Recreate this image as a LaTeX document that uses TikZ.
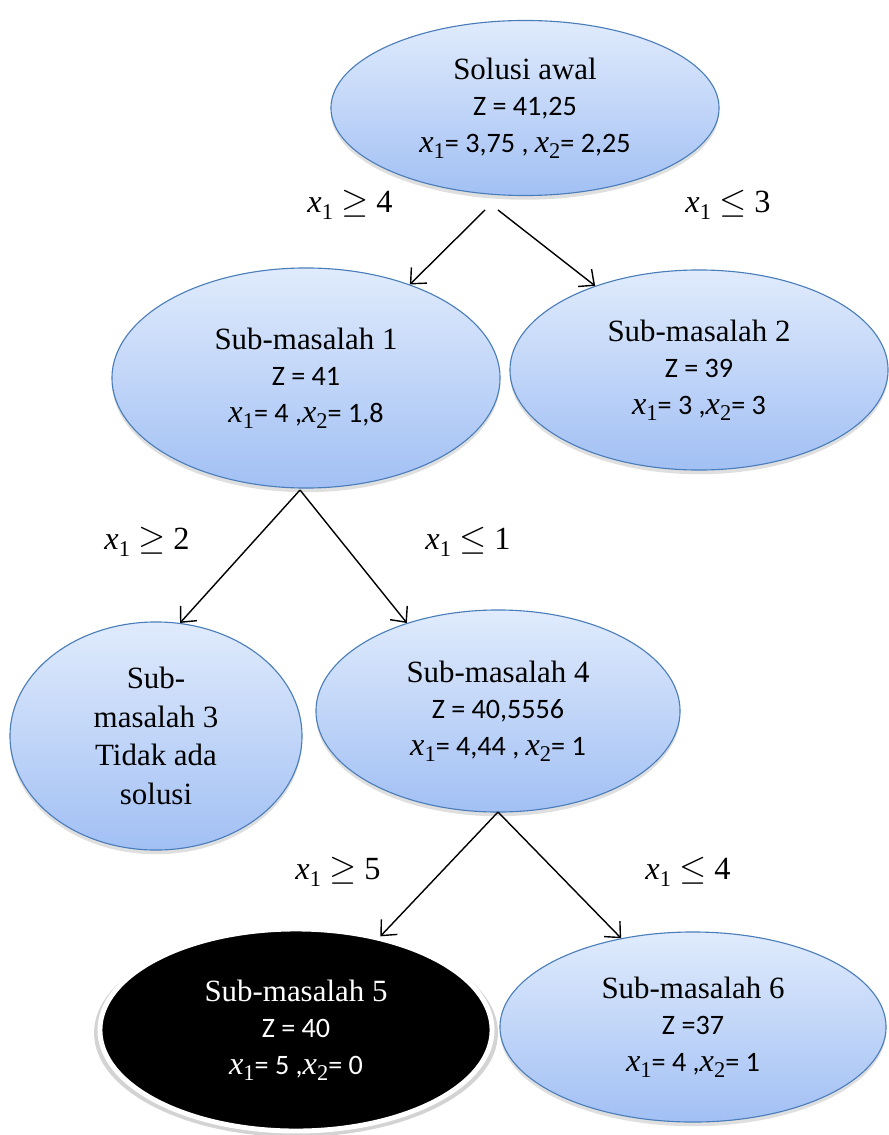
\documentclass[tikz,border=0pt]{standalone}
\usepackage{fontspec}
\setmainfont{Liberation Serif}
\newfontfamily\calibri{Carlito}
\usepackage{amsmath}
\usetikzlibrary{shapes, shadows, arrows.meta}

\definecolor{smedge}{HTML}{4A7EBB}
\definecolor{smtop}{HTML}{E0EBFC}
\definecolor{smbot}{HTML}{A2C0F4}
\newcommand{\ttl}[1]{{\rmfamily\fontsize{22}{26}\selectfont #1}}
\newcommand{\xs}[1]{{\rmfamily\itshape\fontsize{23}{26}\selectfont x}\raisebox{-0.22em}{\rmfamily\fontsize{16}{16}\selectfont #1}}

\begin{document}
\begin{tikzpicture}[x=0.025cm, y=-0.025cm,
  nd/.style={ellipse, inner sep=0pt, align=center, font=\calibri\fontsize{20}{26}\selectfont},
  sm/.style={nd, draw=smedge, line width=0.8pt, top color=smtop, bottom color=smbot,
    drop shadow={opacity=0.25, shadow xshift=0pt, shadow yshift=-3pt}},
  hit/.style={nd, fill=black, text=white, draw=white, line width=3.5pt,
    drop shadow={opacity=0.35, shadow scale=1.03, shadow xshift=0pt, shadow yshift=-2pt}},
  lbl/.style={font=\fontsize{23}{26}\selectfont},
  arr/.style={line width=1pt, -{Straight Barb[length=3mm, width=5.5mm]}}]
\useasboundingbox (0,0) rectangle (888,1135);

\node[sm, minimum width=9.7cm, minimum height=4.375cm] (S0) at (525,108) {\ttl{Solusi awal}\\ Z = 41,25\\ \xs{1}= 3,75 , \xs{2}= 2,25};
\node[sm, minimum width=9.7cm, minimum height=5.5cm] (S1) at (306,378) {\ttl{Sub-masalah 1}\\ Z = 41\\ \xs{1}= 4 ,\xs{2}= 1,8};
\node[sm, minimum width=9.45cm, minimum height=5cm] (S2) at (699,370) {\ttl{Sub-masalah 2}\\ Z = 39\\ \xs{1}= 3 ,\xs{2}= 3};
\node[sm, minimum width=7.3cm, minimum height=5.7cm, font=\fontsize{22}{27.5}\selectfont] (S3) at (156,736) {Sub-\\ masalah 3\\ Tidak ada\\ solusi};
\node[sm, minimum width=9.1cm, minimum height=5.05cm] (S4) at (498,711) {\ttl{Sub-masalah 4}\\ Z = 40,5556\\ \xs{1}= 4,44 , \xs{2}= 1};
\node[hit, minimum width=9.8cm, minimum height=5.05cm] (S5) at (296,1030) {\ttl{Sub-masalah 5}\\ Z = 40\\ \xs{1}= 5 ,\xs{2}= 0};
\node[sm, minimum width=9.65cm, minimum height=4.75cm] (S6) at (693,1027) {\ttl{Sub-masalah 6}\\ Z =37\\ \xs{1}= 4 ,\xs{2}= 1};

\coordinate (a0l) at (485,210);
\coordinate (a0r) at (498,210);
\coordinate (a1) at (300,490);
\coordinate (a4) at (498,812);
\draw[arr] (a0l) -- (S1.42);
\draw[arr] (a0r) -- (S2.141);
\draw[arr] (a1) -- (S3.78);
\draw[arr] (a1) -- (S4.136);
\draw[arr] (a4) -- (S5.48);
\draw[arr] (a4) -- (S6.129);

\node[lbl] (b1) at (350,205) {\xs{1} $\geq$ 4};
\node[lbl] (b2) at (728,205) {\xs{1} $\leq$ 3};
\node[lbl] (b3) at (147,542) {\xs{1} $\geq$ 2};
\node[lbl] (b4) at (468,542) {\xs{1} $\leq$ 1};
\node[lbl] (b5) at (338,872) {\xs{1} $\geq$ 5};
\node[lbl] (b6) at (688,872) {\xs{1} $\leq$ 4};
\end{tikzpicture}
\end{document}
